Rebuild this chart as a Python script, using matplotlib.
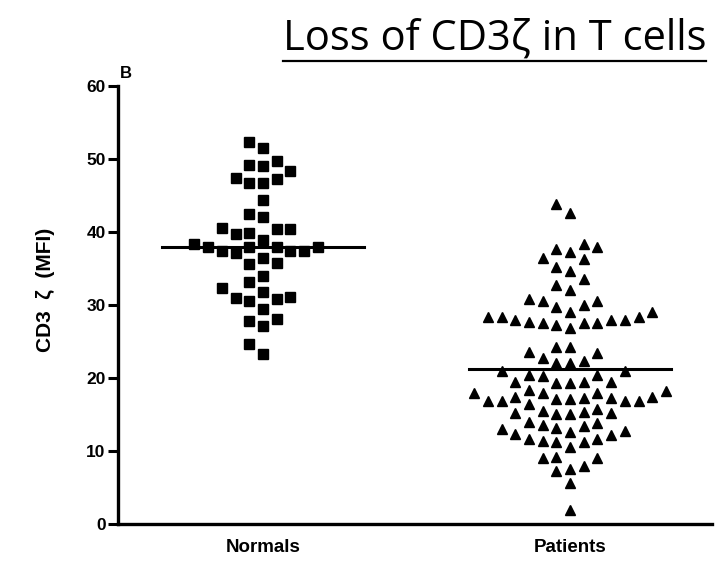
import numpy as np
import matplotlib.pyplot as plt
from matplotlib.lines import Line2D

plt.rcParams['font.family'] = ['Liberation Sans', 'DejaVu Sans']

# categories
groups = ['Normals', 'Patients']

# CD3 zeta MFI values
normals = [52.4, 51.5, 49.7, 49.0, 49.2, 48.4, 47.4, 46.7, 46.7, 47.3,
           44.4, 42.5, 42.1, 40.4, 39.9, 39.8, 40.4, 40.5, 38.9, 38.3,
           37.9, 37.9, 37.4, 37.1, 37.4, 37.4, 37.9, 38.0, 36.5, 35.7,
           35.6, 34.0, 33.1, 32.3, 31.8, 31.1, 30.8, 30.5, 31.0, 29.5,
           27.8, 28.1, 27.1, 24.6, 23.3]

patients = [43.8, 42.6, 38.3, 37.7, 37.3, 37.9, 36.3, 36.5, 34.7, 35.2,
            33.6, 32.7, 32.0, 30.8, 30.5, 29.7, 29.0, 29.1, 30.0, 30.5,
            28.3, 28.3, 27.9, 27.9, 27.6, 27.3, 26.9, 27.6, 27.7, 27.6,
            27.9, 28.3,
            24.2, 23.4, 22.4, 22.1, 22.1, 22.7, 23.6, 24.2,
            21.0, 20.4, 20.3, 20.4, 21.0,
            18.4, 18.0, 17.9, 19.4, 19.3, 19.3, 19.4, 19.5, 17.4, 18.0, 18.2,
            16.8, 16.8, 16.4, 17.4, 17.3, 17.1, 17.1, 17.3, 16.8, 16.8,
            15.5, 15.2, 15.1, 15.1, 15.4, 15.2, 15.8,
            13.9, 13.4, 13.0, 12.6, 12.8, 13.2, 13.6, 14.0,
            12.3, 11.6, 11.4, 11.2, 10.5, 11.3, 11.6, 12.2,
            9.2, 9.0, 9.1, 7.2, 7.6, 7.9, 5.6, 1.9]

# mean lines
means = [37.9, 21.3]

yticks = [0, 10, 20, 30, 40, 50, 60]


def swarm_offsets(values, gap, step):
    # column scatter: go up from the lowest value, take the nearest free column
    order = np.argsort(values, kind='stable')
    placed = {}
    offs = np.zeros(len(values))
    for i in order:
        v = values[i]
        k = 0
        done = False
        while not done:
            for c in ([0] if k == 0 else [-k, k]):
                if all(abs(v - u) >= gap for u in placed.get(c, [])):
                    placed.setdefault(c, []).append(v)
                    offs[i] = c * step
                    done = True
                    break
            k += 1
    return offs


fig = plt.figure(figsize=(7.17, 5.63), dpi=100)
ax = fig.add_axes([0.1646, 0.0693, 0.8284, 0.7777])

step = 0.0446
xn = 0 + swarm_offsets(np.array(normals), 1.9, step)
xp = 1 + swarm_offsets(np.array(patients), 1.9, step)

ax.plot(xn, normals, 's', color='black', markersize=6.6, linestyle='none')
ax.plot(xp, patients, '^', color='black', markersize=7.6, linestyle='none')

for i, m in enumerate(means):
    ax.plot([i - 0.33, i + 0.33], [m, m], color='black', linewidth=2.2)

ax.set_xlim(-0.472, 1.462)
ax.set_ylim(0, 60)
ax.set_yticks(yticks)
ax.set_xticks([0, 1])
ax.set_xticklabels(groups, fontsize=13.5, fontweight='bold')
ax.tick_params(axis='x', length=0, pad=11)
ax.tick_params(axis='y', length=7, width=2.2, labelsize=12.5, pad=2)
for lab in ax.get_yticklabels():
    lab.set_fontweight('bold')

for s in ['top', 'right']:
    ax.spines[s].set_visible(False)
for s in ['left', 'bottom']:
    ax.spines[s].set_linewidth(2.4)

ax.set_ylabel('CD3  ζ  (MFI)', fontsize=15, fontweight='bold')
ax.yaxis.set_label_coords(-0.106, 0.534)

fig.text(0.167, 0.861, 'B', fontsize=12, fontweight='bold', ha='left', va='baseline')

title = fig.text(0.985, 0.911, 'Loss of CD3ζ in T cells', fontsize=30,
                 family=['Open Sans', 'DejaVu Sans'], ha='right', va='baseline')
fig.canvas.draw()
bb = title.get_window_extent().transformed(fig.transFigure.inverted())
fig.add_artist(Line2D([bb.x0, bb.x1], [0.891, 0.891], color='black',
                      linewidth=1.6, transform=fig.transFigure))

fig.savefig('out.png', dpi=100)
